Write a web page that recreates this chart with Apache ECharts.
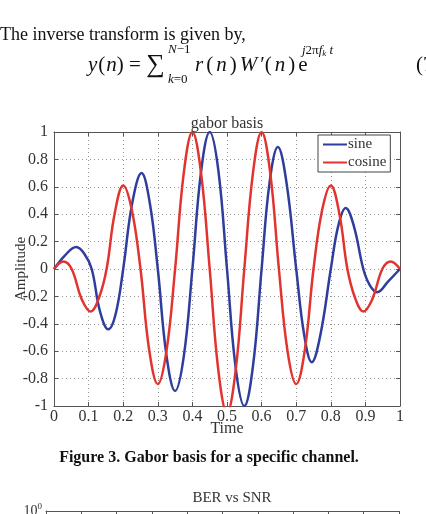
<!DOCTYPE html>
<html>
<head>
<meta charset="utf-8">
<script src="https://cdn.jsdelivr.net/npm/echarts@6/dist/echarts.min.js"></script>
<style>
  html, body { margin: 0; padding: 0; background: #fff; }
  #chart { width: 426px; height: 514px; }
</style>
</head>
<body>
<div id="chart"></div>
<script>
// gabor basis
const sineTime = [0, 0.032, 0.064, 0.088, 0.109, 0.133, 0.157, 0.178, 0.2, 0.226, 0.253, 0.277, 0.3, 0.325, 0.35, 0.375, 0.4, 0.425, 0.45, 0.475, 0.5, 0.525, 0.55, 0.575, 0.6, 0.623, 0.647, 0.672, 0.7, 0.723, 0.745, 0.77, 0.8, 0.822, 0.843, 0.867, 0.894, 0.913, 0.934, 0.966, 1]
const sineValues = [0, 0.1, 0.16, 0.11, 0, -0.31, -0.44, -0.33, 0, 0.48, 0.70, 0.48, 0, -0.63, -0.89, -0.64, 0, 0.71, 1.0, 0.72, 0, -0.72, -1.0, -0.71, 0, 0.63, 0.89, 0.63, 0, -0.48, -0.68, -0.48, 0, 0.32, 0.445, 0.31, 0, -0.12, -0.17, -0.09, 0]
const cosineTime = [0, 0.027, 0.051, 0.08, 0.106, 0.13, 0.152, 0.175, 0.2, 0.225, 0.25, 0.275, 0.3, 0.325, 0.35, 0.375, 0.4, 0.425, 0.45, 0.475, 0.5, 0.525, 0.55, 0.575, 0.6, 0.625, 0.65, 0.675, 0.7, 0.725, 0.75, 0.775, 0.8, 0.825, 0.848, 0.87, 0.894, 0.92, 0.949, 0.973, 1]
const cosineValues = [0, 0.055, 0, -0.22, -0.31, -0.21, 0, 0.4, 0.61, 0.43, 0, -0.59, -0.84, -0.6, 0, 0.7, 1.0, 0.7, 0, -0.74, -1.05, -0.74, 0, 0.7, 1.0, 0.7, 0, -0.6, -0.84, -0.59, 0, 0.43, 0.61, 0.4, 0, -0.21, -0.31, -0.22, 0, 0.055, 0]
const seriesNames = ['sine', 'cosine']

const serif = '"Liberation Serif", "DejaVu Serif", serif'
const BLUE = '#2f3d9c'
const RED = '#e2342f'

const chart = echarts.init(document.getElementById('chart'))

const fmt = v => String(+v.toFixed(1))
const gridLine = { show: true, lineStyle: { color: '#999', type: [1, 3], width: 1 } }
const frame = { show: true, onZero: false, lineStyle: { color: '#555', width: 1 } }
const tickIn = { show: true, inside: true, length: 4, lineStyle: { color: '#555' } }

// math text helpers
const mi = { fontFamily: serif, fontStyle: 'italic', fontSize: 21, fill: '#111' }
const mr = { fontFamily: serif, fontSize: 21, fill: '#111' }
const si = { fontFamily: serif, fontStyle: 'italic', fontSize: 13, fill: '#111' }
const sr = { fontFamily: serif, fontSize: 13, fill: '#111' }

const option = {
  backgroundColor: '#fff',
  animation: false,
  title: {
    text: 'gabor basis',
    left: 222,
    top: 111,
    textAlign: 'center',
    textStyle: { fontFamily: serif, fontSize: 16, fontWeight: 'normal', color: '#333' }
  },
  legend: {
    data: seriesNames,
    orient: 'vertical',
    left: 318,
    top: 135,
    padding: [2, 4, 2, 5],
    itemGap: 3,
    itemWidth: 24,
    itemHeight: 2,
    icon: 'rect',
    backgroundColor: '#fff',
    borderColor: '#444',
    borderWidth: 1,
    textStyle: { fontFamily: serif, fontSize: 15, color: '#333', padding: [0, 0, 0, -4] }
  },
  grid: [
    { left: 54, top: 132, width: 346, height: 274, containLabel: false, outerBoundsMode: 'none' },
    { left: 46, top: 511, width: 353, height: 300, containLabel: false, outerBoundsMode: 'none' }
  ],
  xAxis: [
    {
      type: 'value', gridIndex: 0, min: 0, max: 1, interval: 0.1,
      name: 'Time', nameLocation: 'middle', nameGap: 15, nameMoveOverlap: false,
      nameTextStyle: { fontFamily: serif, fontSize: 16, color: '#333' },
      axisLine: frame,
      axisTick: tickIn,
      axisLabel: { fontFamily: serif, fontSize: 16, color: '#333', margin: 3, formatter: fmt },
      splitLine: gridLine
    },
    {
      type: 'value', gridIndex: 0, position: 'top', min: 0, max: 1, interval: 0.1,
      axisLine: frame,
      axisTick: tickIn,
      axisLabel: { show: false },
      splitLine: { show: false }
    },
    {
      type: 'value', gridIndex: 1, min: 0, max: 10, interval: 1,
      position: 'top',
      axisLine: frame,
      axisTick: { show: true, inside: true, length: 3, lineStyle: { color: '#555' } },
      axisLabel: { show: false },
      splitLine: gridLine
    }
  ],
  yAxis: [
    {
      type: 'value', gridIndex: 0, min: -1, max: 1, interval: 0.2,
      name: 'Amplitude', nameLocation: 'middle', nameGap: 25, nameMoveOverlap: false,
      nameTextStyle: { fontFamily: serif, fontSize: 15, color: '#333' },
      axisLine: frame,
      axisTick: tickIn,
      axisLabel: { fontFamily: serif, fontSize: 16, color: '#333', margin: 6, formatter: fmt },
      splitLine: gridLine
    },
    {
      type: 'value', gridIndex: 0, position: 'right', min: -1, max: 1, interval: 0.2,
      axisLine: frame,
      axisTick: tickIn,
      axisLabel: { show: false },
      splitLine: { show: false }
    },
    {
      type: 'log', gridIndex: 1, min: 1e-5, max: 1,
      axisLine: frame,
      axisTick: { show: true, inside: true, length: 3 },
      axisLabel: {
        fontFamily: serif, color: '#333', margin: 4,
        formatter: v => v === 1 ? '{b|10}{s|0}' : '',
        rich: { b: { fontFamily: serif, fontSize: 14 }, s: { fontFamily: serif, fontSize: 9, verticalAlign: 'top', padding: [0, 0, 8, 0] } }
      },
      splitLine: { show: false }
    }
  ],
  series: [
    {
      name: seriesNames[0], type: 'line', xAxisIndex: 0, yAxisIndex: 0,
      smooth: 0.4, symbol: 'none', clip: true,
      lineStyle: { color: BLUE, width: 2.5 }, itemStyle: { color: BLUE },
      data: sineTime.map((t, i) => [t, sineValues[i]])
    },
    {
      name: seriesNames[1], type: 'line', xAxisIndex: 0, yAxisIndex: 0,
      smooth: 0.4, symbol: 'none', clip: true,
      lineStyle: { color: RED, width: 2.5 }, itemStyle: { color: RED },
      data: cosineTime.map((t, i) => [t, cosineValues[i]])
    },
    { type: 'line', xAxisIndex: 2, yAxisIndex: 2, data: [], silent: true }
  ],
  graphic: [
    {
      type: 'text', x: 0, y: 35,
      style: { text: 'The inverse transform is given by,', verticalAlign: 'middle', fontFamily: serif, fontSize: 18, fill: '#111' }
    },
    {
      type: 'text', x: 88, y: 65,
      style: {
        text: '{i|y}{p|(}{i|n}{r|) = }{s|∑}',
        verticalAlign: 'middle',
        rich: { i: mi, r: mr, p: { ...mr, padding: [0, 1] }, s: { ...mr, fontSize: 26 } }
      }
    },
    {
      type: 'text', x: 168, y: 50,
      style: { text: '{i|N}{r|−1}', verticalAlign: 'middle', rich: { i: si, r: sr } }
    },
    {
      type: 'text', x: 168, y: 80,
      style: { text: '{i|k}{r|=0}', verticalAlign: 'middle', rich: { i: si, r: sr } }
    },
    {
      type: 'text', x: 195, y: 65,
      style: {
        text: '{i|r}{p|(}{i|n}{p|)}{i|W}{p|′(}{i|n}{p|)}{r|e}',
        verticalAlign: 'middle',
        rich: { i: mi, r: mr, p: { ...mr, padding: [0, 3] } }
      }
    },
    {
      type: 'text', x: 302, y: 51,
      style: { text: '{i|j}{r|2π}{i|f}{k|k}{i| t}', verticalAlign: 'middle', rich: {
        i: si, r: sr,
        k: { ...si, fontSize: 9, verticalAlign: 'bottom', padding: [6, 0, 0, 0] } } }
    },
    {
      type: 'text', x: 416, y: 65,
      style: { text: '(7)', verticalAlign: 'middle', fontFamily: serif, fontSize: 21, fill: '#111' }
    },
    {
      type: 'text', x: 209, y: 458,
      style: { text: 'Figure 3. Gabor basis for a specific channel.', align: 'center', verticalAlign: 'middle',
        fontFamily: serif, fontSize: 16, fontWeight: 'bold', fill: '#111' }
    },
    {
      type: 'text', x: 232, y: 498,
      style: { text: 'BER vs SNR', align: 'center', verticalAlign: 'middle', fontFamily: serif, fontSize: 15, fill: '#333' }
    }
  ]
}

chart.setOption(option)
window.addEventListener('resize', () => chart.resize())
</script>
</body>
</html>
